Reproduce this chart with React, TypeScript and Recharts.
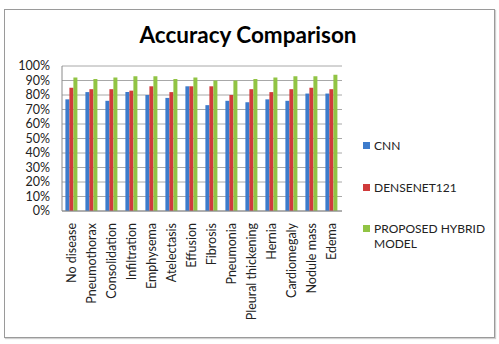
import React from "react";
import { BarChart, Bar, XAxis, YAxis, CartesianGrid } from "recharts";

const categories = [
  "No disease",
  "Pneumothorax",
  "Consolidation",
  "Infiltration",
  "Emphysema",
  "Atelectasis",
  "Effusion",
  "Fibrosis",
  "Pneumonia",
  "Pleural thickening",
  "Hernia",
  "Cardiomegaly",
  "Nodule mass",
  "Edema",
];
const cnn = [77, 82, 76, 82, 80, 78, 86, 73, 76, 75, 77, 76, 81, 81];
const densenet = [85, 84, 84, 83, 86, 82, 86, 86, 80, 84, 82, 84, 85, 84];
const hybrid = [92, 91, 92, 93, 93, 91, 92, 90, 90, 91, 92, 93, 93, 94];
const yTicks = [0, 10, 20, 30, 40, 50, 60, 70, 80, 90, 100];
const title = "Accuracy Comparison";

const series = [
  { key: "cnn", name: "CNN", color: "#3D7BCB", values: cnn },
  { key: "densenet", name: "DENSENET121", color: "#D03B3B", values: densenet },
  { key: "hybrid", name: "PROPOSED HYBRID MODEL", color: "#91C444", values: hybrid },
];

const data = categories.map((c, i) => {
  const row: Record<string, string | number> = { category: c };
  series.forEach((s) => {
    row[s.key] = s.values[i];
  });
  return row;
});

const FONT = "Lato, 'DejaVu Sans', sans-serif";

const XTick = (props: any) => {
  const { x, y, payload } = props;
  return (
    <text
      transform={`translate(${x},${y + 12}) rotate(-90)`}
      textAnchor="end"
      dy="0.35em"
      fontSize={12.5}
      fontFamily={FONT}
      fill="#222"
    >
      {payload.value}
    </text>
  );
};

export default function App() {
  return (
    <div
      style={{
        position: "absolute",
        left: 0,
        top: 0,
        width: 499,
        height: 344,
        background: "#fff",
        fontFamily: FONT,
      }}
    >
      <div
        style={{
          position: "absolute",
          left: 4,
          top: 9,
          width: 489,
          height: 327,
          border: "1px solid #9a9a9a",
          boxShadow: "1px 1px 1px #d0d0d0",
        }}
      />
      <svg
        width={499}
        height={344}
        style={{ position: "absolute", left: 0, top: 0, pointerEvents: "none" }}
      >
        <text
          x={248}
          y={43}
          textAnchor="middle"
          fontSize={22.5}
          fontWeight={700}
          fontFamily={FONT}
          fill="#000"
        >
          {title}
        </text>
      </svg>
      <div style={{ position: "absolute", left: 0, top: 0 }}>
        <BarChart
          width={499}
          height={344}
          data={data}
          margin={{ top: 66, right: 157, left: 12, bottom: 0 }}
          barCategoryGap="17%"
          barGap={0}
        >
          <CartesianGrid vertical={false} stroke="#a8a8a8" />
          <XAxis
            dataKey="category"
            interval={0}
            height={133}
            tickLine={false}
            tickSize={0}
            tickMargin={0}
            stroke="#8a8a8a"
            tick={<XTick />}
          />
          <YAxis
            width={50}
            domain={[0, 100]}
            ticks={yTicks}
            interval={0}
            tickFormatter={(v: number) => `${v}%`}
            tickLine={false}
            tickSize={0}
            tickMargin={12}
            stroke="#8a8a8a"
            tick={{ fontSize: 12.5, fontFamily: FONT, fill: "#222" }}
          />
          {series.map((s) => (
            <Bar
              key={s.key}
              dataKey={s.key}
              name={s.name}
              fill={s.color}
              isAnimationActive={false}
            />
          ))}
        </BarChart>
      </div>
      {series.map((s, i) => (
        <div
          key={s.key}
          style={{
            position: "absolute",
            left: 363,
            top: 138 + i * 41.5,
            display: "flex",
            alignItems: "flex-start",
            fontSize: 12,
            lineHeight: "15px",
            color: "#222",
          }}
        >
          <div
            style={{
              width: 7,
              height: 7,
              background: s.color,
              marginTop: 4,
              marginRight: 4,
              flexShrink: 0,
            }}
          />
          <div style={{ width: 112 }}>{s.name}</div>
        </div>
      ))}
    </div>
  );
}
